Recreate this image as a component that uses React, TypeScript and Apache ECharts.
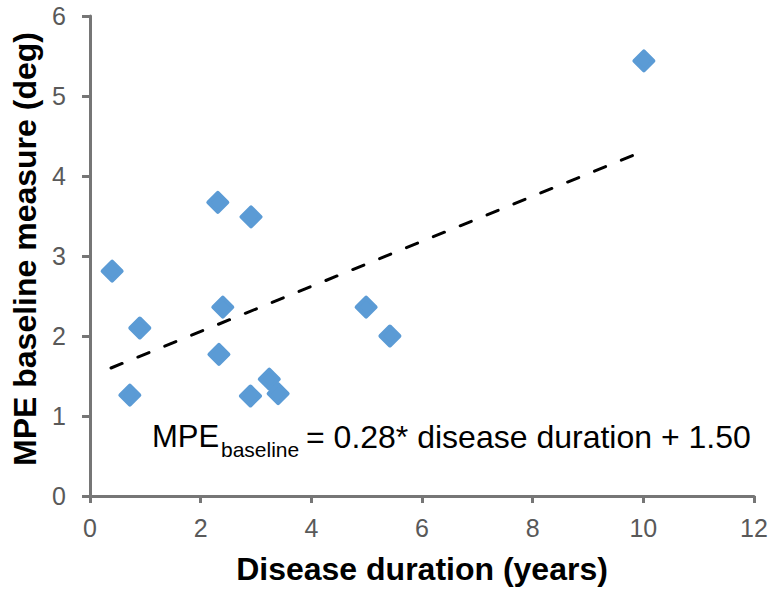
import React, { useEffect, useRef } from "react";
import * as echarts from "echarts";

const durationYears = [0.4, 0.72, 0.9, 2.31, 2.33, 2.4, 2.91, 2.9, 3.24, 3.4, 4.99, 5.42, 10.01];
const mpeBaseline = [2.81, 1.26, 2.1, 3.67, 1.77, 2.36, 3.49, 1.25, 1.46, 1.28, 2.36, 2.0, 5.44];
const trendX = [0.38, 10.0];
const trendY = [1.6, 4.31];
const xTicks = { min: 0, max: 12, interval: 2 };
const yTicks = { min: 0, max: 6, interval: 1 };
const eqMain = "MPE";
const eqSub = "baseline";
const eqRest = "= 0.28* disease duration + 1.50";

export default function App() {
  const ref = useRef<HTMLDivElement>(null);
  useEffect(() => {
    if (!ref.current) return;
    const chart = echarts.init(ref.current, null, { renderer: "svg" });
    const axisColor = "#767676";
    const labelColor = "#595959";
    const font = "Liberation Sans, Arial, sans-serif";
    chart.setOption({
      animation: false,
      backgroundColor: "#ffffff",
      grid: { left: 90, right: 17, top: 16, bottom: 92, containLabel: false },
      xAxis: {
        type: "value",
        ...xTicks,
        name: "Disease duration (years)",
        nameLocation: "middle",
        nameGap: 57,
        nameTextStyle: { fontFamily: font, fontWeight: "bold", fontSize: 32, color: "#000" },
        splitLine: { show: false },
        axisLine: { show: true, lineStyle: { color: axisColor, width: 3 } },
        axisTick: { show: true, inside: false, length: 7, lineStyle: { color: axisColor, width: 3 } },
        axisLabel: { fontFamily: font, fontSize: 25, color: labelColor, margin: 19 },
      },
      yAxis: {
        type: "value",
        ...yTicks,
        name: "MPE baseline measure (deg)",
        nameLocation: "middle",
        nameGap: 45,
        nameTextStyle: {
          fontFamily: font,
          fontWeight: "bold",
          fontSize: 32,
          color: "#000",
          padding: [0, 0, 0, 14],
        },
        splitLine: { show: false },
        axisLine: { show: true, lineStyle: { color: axisColor, width: 3 } },
        axisTick: { show: true, inside: false, length: 8, lineStyle: { color: axisColor, width: 3 } },
        axisLabel: { fontFamily: font, fontSize: 25, color: labelColor, margin: 24 },
      },
      series: [
        {
          type: "line",
          data: trendX.map((x, i) => [x, trendY[i]]),
          symbol: "none",
          lineStyle: { color: "#000", width: 3, type: [12, 17], cap: "round" },
          z: 2,
        },
        {
          type: "scatter",
          data: durationYears.map((x, i) => [x, mpeBaseline[i]]),
          symbol: "diamond",
          symbolSize: [19, 19],
          itemStyle: {
            color: "#5b9bd5",
            opacity: 1,
            borderColor: "#5b9bd5",
            borderWidth: 4,
            borderJoin: "round",
          },
          z: 3,
        },
      ],
      graphic: [
        {
          type: "text",
          left: 152,
          top: 437 - 16,
          style: { text: eqMain, fontFamily: font, fontSize: 31, fill: "#000" },
        },
        {
          type: "text",
          left: 221,
          top: 449 - 10.5,
          style: { text: eqSub, fontFamily: font, fontSize: 21, fill: "#000" },
        },
        {
          type: "text",
          left: 306,
          top: 437 - 16,
          style: { text: eqRest, fontFamily: font, fontSize: 32, fill: "#000" },
        },
      ],
    });
    return () => chart.dispose();
  }, []);
  return (
    <div
      ref={ref}
      style={{ position: "fixed", left: 0, top: 0, width: 771, height: 590, background: "#fff" }}
    />
  );
}
